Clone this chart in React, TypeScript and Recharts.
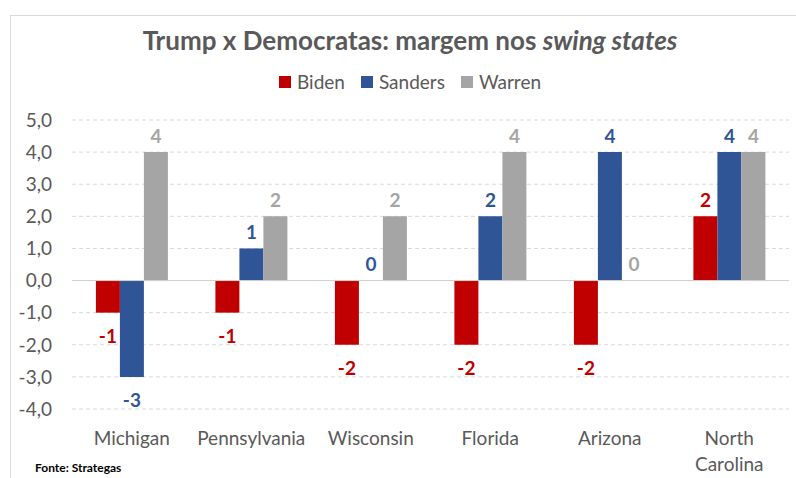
import { BarChart, Bar, XAxis, YAxis, CartesianGrid, LabelList, ReferenceLine } from "recharts";

const states = ["Michigan", "Pennsylvania", "Wisconsin", "Florida", "Arizona", "North Carolina"];
const biden = [-1, -1, -2, -2, -2, 2];
const sanders = [-3, 1, 0, 2, 4, 4];
const warren = [4, 2, 2, 4, 0, 4];
const yTicks = [-4, -3, -2, -1, 0, 1, 2, 3, 4, 5];

const FONT = "Lato, 'Noto Sans', sans-serif";
const TEXT = "#595959";

const series = [
    { key: "Biden", color: "#C00000" },
    { key: "Sanders", color: "#2F5597" },
    { key: "Warren", color: "#A5A5A5" },
];

const data = states.map((state, i) => ({
    state,
    Biden: biden[i],
    Sanders: sanders[i],
    Warren: warren[i],
}));

// value labels: above positive bars, below negative ones
const makeLabel = (color: string) => (props: any) => {
    const { x, y, width, height, value } = props;
    const top = Math.min(y, y + height);
    const bottom = Math.max(y, y + height);
    const cy = value >= 0 ? top - 17 : bottom + 23;
    return (
        <text
            x={x + width / 2}
            y={cy}
            textAnchor="middle"
            dominantBaseline="central"
            fill={color}
            fontWeight="bold"
            fontSize={19}
            fontFamily={FONT}
        >
            {value}
        </text>
    );
};

function StateTick({ x, y, payload }: any) {
    const name: string = payload.value;
    const lines = name.length > 12 ? name.split(" ") : [name];
    return (
        <text x={x} y={y} textAnchor="middle" dominantBaseline="central" fill={TEXT} fontSize={19} fontFamily={FONT}>
            {lines.map((l, i) => (
                <tspan key={i} x={x} dy={i === 0 ? 20 : 26}>
                    {l}
                </tspan>
            ))}
        </text>
    );
}

function LegendBox() {
    return (
        <div
            style={{
                position: "absolute",
                top: 70,
                left: 0,
                width: 796,
                display: "flex",
                justifyContent: "center",
                paddingLeft: 24,
                boxSizing: "border-box",
                fontFamily: FONT,
                fontSize: 19,
                color: TEXT,
            }}
        >
            {series.map((s) => (
                <div key={s.key} style={{ display: "flex", alignItems: "center", margin: "0 8px" }}>
                    <span style={{ width: 12, height: 12, background: s.color, marginRight: 6, display: "inline-block" }} />
                    {s.key}
                </div>
            ))}
        </div>
    );
}

export default function App() {
    return (
        <div style={{ position: "absolute", left: 0, top: 0, width: 796, height: 478, background: "#fff", overflow: "hidden" }}>
            <div
                style={{
                    position: "absolute",
                    left: 10,
                    top: 15,
                    width: 800,
                    height: 500,
                    border: "1px solid #d9d9d9",
                }}
            />
            <div
                style={{
                    position: "absolute",
                    top: 24,
                    left: 12,
                    width: 796,
                    textAlign: "center",
                    fontFamily: FONT,
                    fontWeight: "bold",
                    fontSize: 26,
                    color: TEXT,
                }}
            >
                Trump x Democratas: margem nos <i>swing states</i>
            </div>
            <LegendBox />
            <div style={{ position: "absolute", top: 0, left: 0 }}>
                <BarChart
                    width={796}
                    height={478}
                    data={data}
                    margin={{ top: 120, right: 7, bottom: 9, left: 0 }}
                    barCategoryGap="20%"
                    barGap={0}
                >
                    <CartesianGrid vertical={false} stroke="#d9d9d9" strokeDasharray="4 3" />
                    <XAxis dataKey="state" axisLine={false} tickLine={false} height={60} interval={0} tick={<StateTick />} />
                    <YAxis
                        width={72}
                        domain={[-4, 5]}
                        ticks={yTicks}
                        interval={0}
                        axisLine={false}
                        tickLine={false}
                        tickMargin={14}
                        tickFormatter={(v: number) => v.toFixed(1).replace(".", ",")}
                        tick={{ fill: TEXT, fontSize: 19, fontFamily: FONT }}
                    />
                    <ReferenceLine y={0} stroke="#d0d0d0" />
                    {series.map((s) => (
                        <Bar
                            key={s.key}
                            dataKey={s.key}
                            fill={s.color}
                            minPointSize={(v: number) => (v === 0 ? 0.01 : 0)}
                            isAnimationActive={false}
                        >
                            <LabelList dataKey={s.key} content={makeLabel(s.color)} />
                        </Bar>
                    ))}
                </BarChart>
            </div>
            <div
                style={{
                    position: "absolute",
                    left: 35,
                    top: 461,
                    lineHeight: "14px",
                    fontFamily: FONT,
                    fontWeight: "bold",
                    fontSize: 12,
                    color: "#000",
                }}
            >
                Fonte: Strategas
            </div>
        </div>
    );
}
